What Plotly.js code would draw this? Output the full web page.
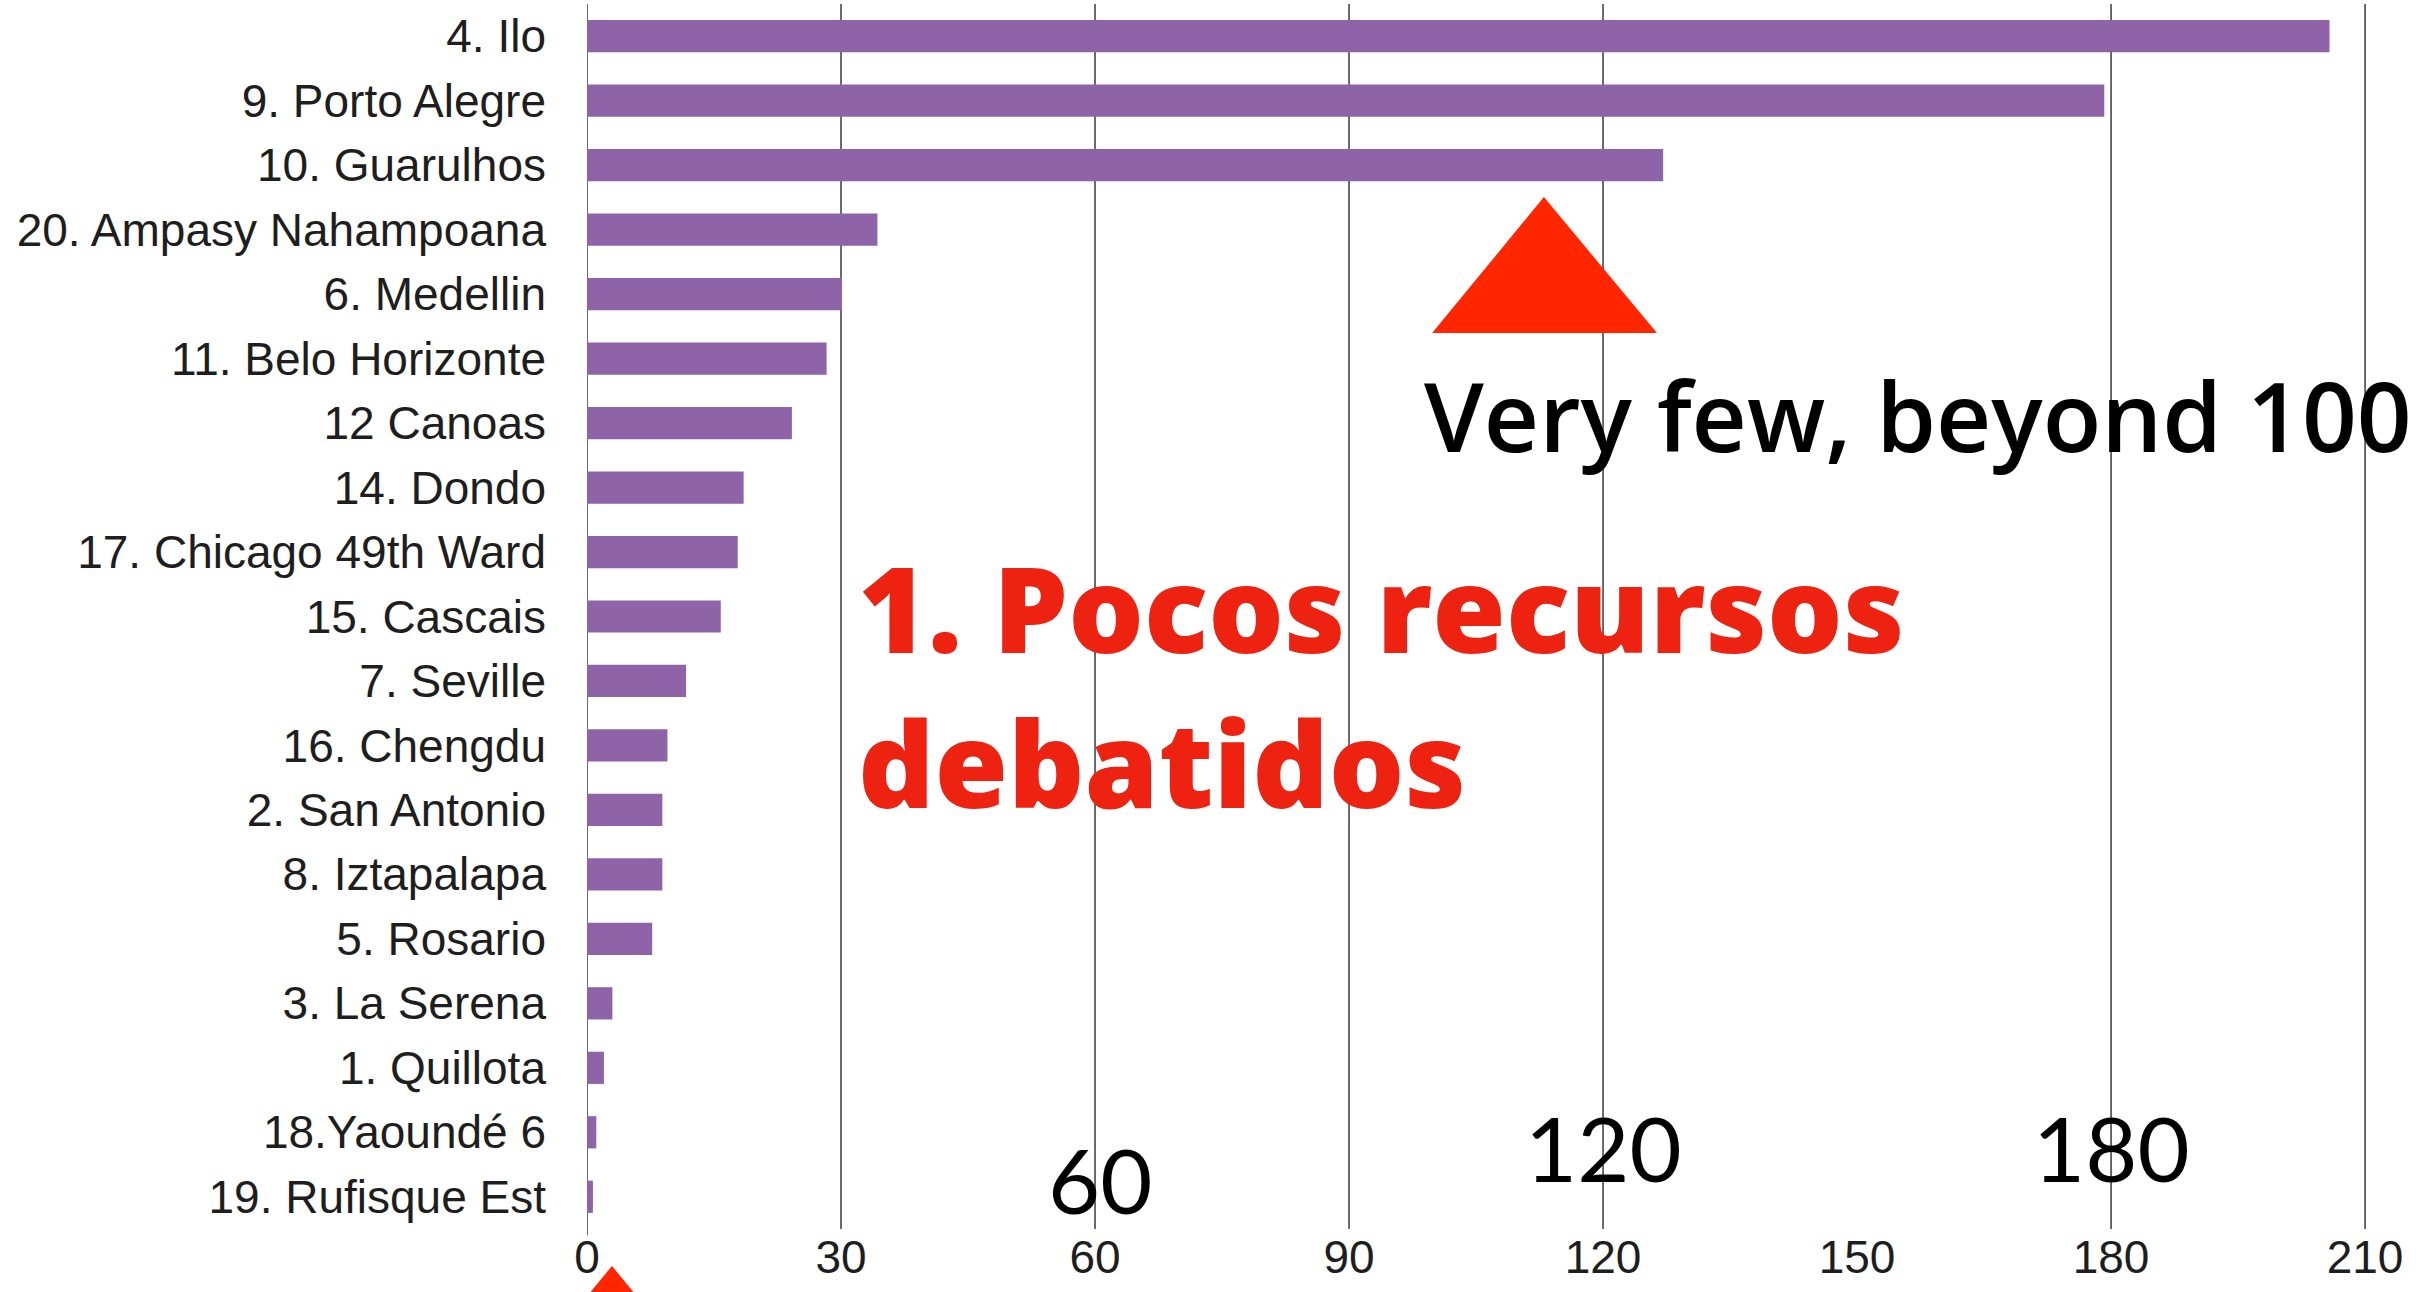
<!DOCTYPE html>
<html>
<head>
<meta charset="utf-8">
<script src="https://cdn.plot.ly/plotly-3.0.1.min.js"></script>
<style>
  html, body { margin: 0; padding: 0; background: #ffffff; }
  #chart { width: 2424px; height: 1292px; }
</style>
</head>
<body>
<div id="chart"></div>
<script>
// ---- data (top-to-bottom order) ----
const cities = [
  "4. Ilo", "9. Porto Alegre", "10. Guarulhos", "20. Ampasy Nahampoana",
  "6. Medellin", "11. Belo Horizonte", "12 Canoas", "14. Dondo",
  "17. Chicago 49th Ward", "15. Cascais", "7. Seville", "16. Chengdu",
  "2. San Antonio", "8. Iztapalapa", "5. Rosario", "3. La Serena",
  "1. Quillota", "18.Yaoundé 6", "19. Rufisque Est"
];
const values = [
  205.8, 179.2, 127.1, 34.3,
  30.1, 28.3, 24.2, 18.5,
  17.8, 15.8, 11.7, 9.5,
  8.9, 8.9, 7.7, 3.0,
  2.0, 1.1, 0.7
];
const xTickVals = [0, 30, 60, 90, 120, 150, 180, 210];
const gridVals = [0, 30, 60, 90, 120, 180, 210];
const bigNumbers = [60, 120, 180];
const noteFew = "Very few, beyond 100";
const titleLines = ["1. Pocos recursos", "debatidos"];

// ---- styling / placement ----
const barColor = "#8e63a8";
const gridColor = "#474747";
const red = "#ee2211";
const triRed = "#ff2600";
const labelFont = "Liberation Sans, Arial, Helvetica, sans-serif";
const numFont = "Lato, Open Sans, sans-serif";
const noteFont = "Open Sans, Lato, sans-serif";
const bigNumY = [0.041, 0.067, 0.067];

const trace = {
  type: "bar",
  orientation: "h",
  x: values,
  y: cities,
  marker: { color: barColor, line: { width: 0 } },
  hoverinfo: "x+y"
};

const shapes = gridVals.map(v => ({
  type: "line", xref: "x", yref: "paper",
  x0: v, x1: v, y0: v === 0 ? -0.005 : 0, y1: 1,
  line: { color: gridColor, width: 1.6 },
  layer: "below"
}));

// red triangles (decoration, paper coords)
shapes.push({
  type: "path", xref: "paper", yref: "paper",
  path: "M 0.4708 0.7314 L 0.5331 0.8424 L 0.5961 0.7314 Z",
  fillcolor: triRed, line: { width: 0 }, layer: "above"
});
shapes.push({
  type: "path", xref: "paper", yref: "paper",
  path: "M -0.0485 -0.1412 L 0.0139 -0.0302 L 0.0763 -0.1412 Z",
  fillcolor: triRed, line: { width: 0 }, layer: "above"
});

const annotations = [];
bigNumbers.forEach((v, i) => {
  annotations.push({
    text: String(v), xref: "x", yref: "paper", x: v + (i === 0 ? 0.6 : 0), y: bigNumY[i],
    xanchor: "center", yanchor: "middle", showarrow: false,
    font: { family: numFont, size: 90, color: "#000000" }
  });
});
annotations.push({
  text: noteFew, xref: "paper", yref: "paper", x: 0.465, y: 0.6645,
  xanchor: "left", yanchor: "middle", showarrow: false,
  font: { family: noteFont, size: 96, color: "#000000", weight: 600 }
});
annotations.push({
  text: titleLines.join("<br>"), xref: "paper", yref: "paper", x: 0.150, y: 0.4448,
  xanchor: "left", yanchor: "middle", align: "left", showarrow: false,
  font: { family: noteFont, size: 119, color: red, weight: 800 }
});

const layout = {
  width: 2424, height: 1292, autosize: false,
  margin: { l: 587, r: 42, t: 4, b: 63, pad: 0 },
  paper_bgcolor: "#ffffff", plot_bgcolor: "#ffffff",
  showlegend: false,
  bargap: 0.5,
  xaxis: {
    range: [0, 212], tickvals: xTickVals, ticktext: xTickVals.map(String),
    showgrid: false, zeroline: false, showline: false, ticks: "",
    ticklabelstandoff: -3,
    tickfont: { family: labelFont, size: 46, color: "#1e1e1e" },
    fixedrange: true
  },
  yaxis: {
    autorange: "reversed", type: "category",
    showgrid: false, zeroline: false, showline: false, ticks: "",
    ticklabelstandoff: 40,
    tickfont: { family: labelFont, size: 46, color: "#1e1e1e" },
    fixedrange: true
  },
  shapes: shapes,
  annotations: annotations
};

Plotly.newPlot("chart", [trace], layout, { displayModeBar: false, staticPlot: true });
</script>
</body>
</html>
